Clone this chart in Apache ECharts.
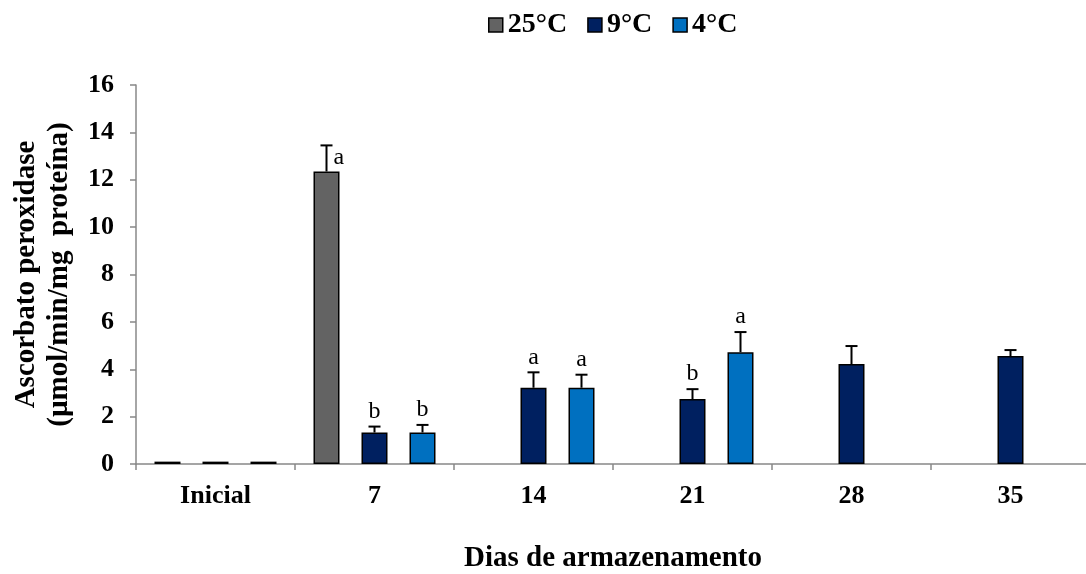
<!DOCTYPE html>
<html><head><meta charset="utf-8">
<script src="https://cdn.jsdelivr.net/npm/echarts@6/dist/echarts.min.js"></script>
<style>html,body{margin:0;padding:0;background:#fff}#c{width:1086px;height:574px}</style>
</head><body><div id="c"></div>
<script>
const categories = ['Inicial', '7', '14', '21', '28', '35'];
const seriesNames = ['25°C', '9°C', '4°C'];
const yTicks = [0, 2, 4, 6, 8, 10, 12, 14, 16];
const t25 = [0.1, 12.35, null, null, null, null];
const t9 = [0.1, 1.33, 3.22, 2.74, 4.22, 4.56];
const t4 = [0.1, 1.33, 3.22, 4.72, null, null];
const err25 = [0, 1.1, 0, 0, 0, 0];
const err9 = [0, 0.25, 0.65, 0.42, 0.76, 0.25];
const err4 = [0, 0.32, 0.55, 0.85, 0, 0];
const let25 = ['', 'a', '', '', '', ''];
const let9 = ['', 'b', 'a', 'b', '', ''];
const let4 = ['', 'b', 'a', 'a', '', ''];

const colors = ['#636363', '#002060', '#0070C0'];
const FONT = '"Liberation Serif", "Times New Roman", serif';
const BW = 26, GAP = 22;
const vals = [t25, t9, t4], errs = [err25, err9, err4], lets = [let25, let9, let4];

function errSeries(si) {
  const data = categories.map((c, i) => [i, vals[si][i], errs[si][i], lets[si][i]]);
  return {
    type: 'custom', name: 'err' + si, z: 5, silent: true,
    data: data,
    renderItem: function (params, api) {
      const idx = api.value(0), v = api.value(1), e = api.value(2);
      const letter = data[params.dataIndex][3];
      if (v == null || isNaN(v)) return;
      const off = (si - 1) * (BW + GAP);
      const p0 = api.coord([idx, v]);
      const p1 = api.coord([idx, v + e]);
      const x = p0[0] + off;
      const children = [];
      if (e > 0) {
        children.push({ type: 'line', shape: { x1: x, y1: p0[1], x2: x, y2: p1[1] }, style: { stroke: '#000', lineWidth: 2 } });
        children.push({ type: 'line', shape: { x1: x - 6, y1: p1[1], x2: x + 6, y2: p1[1] }, style: { stroke: '#000', lineWidth: 2 } });
      }
      if (letter) {
        const right = si === 0;
        children.push({
          type: 'text',
          style: {
            text: letter, x: right ? x + 7 : x, y: right ? p1[1] + 12 : p1[1] - 3,
            align: right ? 'left' : 'center', verticalAlign: right ? 'middle' : 'bottom',
            font: '24px ' + FONT, fill: '#000'
          }
        });
      }
      return { type: 'group', children: children };
    }
  };
}

const chart = echarts.init(document.getElementById('c'));
chart.setOption({
  animation: false,
  color: colors,
  legend: {
    top: 6, left: 483, itemWidth: 14, itemHeight: 14, itemGap: 20,
    data: seriesNames.map(n => ({ name: n, icon: 'rect' })),
    itemStyle: { borderColor: '#000', borderWidth: 1.5 },
    textStyle: { fontFamily: FONT, fontWeight: 'bold', fontSize: 28, color: '#000', padding: [0, 0, 0, 0] }
  },
  grid: { left: 136, top: 85, bottom: 110, right: -4, containLabel: false, outerBoundsMode: 'none' },
  xAxis: {
    type: 'category', data: categories,
    name: 'Dias de armazenamento', nameLocation: 'middle', nameGap: 80,
    nameTextStyle: { fontFamily: FONT, fontWeight: 'bold', fontSize: 29, color: '#000' },
    axisLine: { lineStyle: { color: '#888', width: 1.5 } },
    axisTick: { show: true, length: 6, lineStyle: { color: '#888', width: 1.5 } },
    axisLabel: { fontFamily: FONT, fontWeight: 'bold', fontSize: 26, color: '#000', margin: 19 }
  },
  yAxis: {
    type: 'value', min: yTicks[0], max: yTicks[yTicks.length - 1], interval: 2,
    name: 'Ascorbato peroxidase\n(µmol/min/mg  proteína)', nameLocation: 'middle', nameGap: 60, nameRotate: 90,
    nameTextStyle: { fontFamily: FONT, fontWeight: 'bold', fontSize: 29, color: '#000', lineHeight: 33 },
    axisLine: { show: true, lineStyle: { color: '#888', width: 1.5 } },
    axisTick: { show: true, length: 6, lineStyle: { color: '#888', width: 1.5 } },
    splitLine: { show: false },
    axisLabel: { fontFamily: FONT, fontWeight: 'bold', fontSize: 26, color: '#000', margin: 22 }
  },
  series: [
    { name: seriesNames[0], type: 'bar', data: t25, barWidth: BW, barGap: (GAP / BW * 100) + '%', itemStyle: { color: colors[0], borderColor: '#000', borderWidth: 1.5 } },
    { name: seriesNames[1], type: 'bar', data: t9, barWidth: BW, barGap: (GAP / BW * 100) + '%', itemStyle: { color: colors[1], borderColor: '#000', borderWidth: 1.5 } },
    { name: seriesNames[2], type: 'bar', data: t4, barWidth: BW, barGap: (GAP / BW * 100) + '%', itemStyle: { color: colors[2], borderColor: '#000', borderWidth: 1.5 } },
    errSeries(0), errSeries(1), errSeries(2)
  ]
});
</script></body></html>
